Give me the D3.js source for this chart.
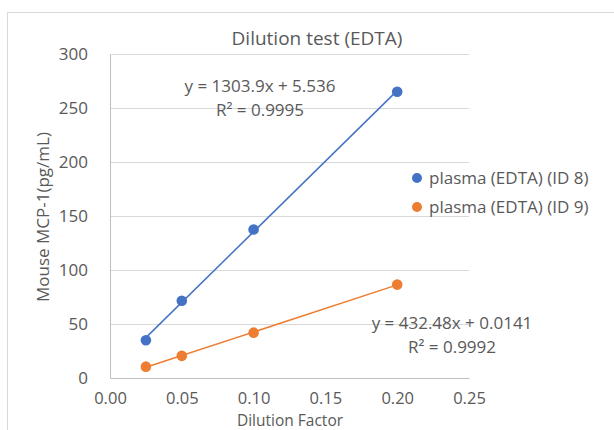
<!DOCTYPE html>
<html><head><meta charset="utf-8">
<script src="https://cdn.jsdelivr.net/npm/d3@7"></script>
<style>body{margin:0;background:#fff;}text{font-family:"Open Sans",sans-serif;fill:#595959;}</style>
</head><body>
<svg id="c" width="614" height="430"></svg>
<script>
const dilution = [0.025, 0.05, 0.1, 0.2];
const id8 = [35, 71.5, 137.5, 265];
const id9 = [10.5, 20.5, 42, 86.5];
const seriesNames = ["plasma (EDTA) (ID 8)", "plasma (EDTA) (ID 9)"];
const colors = ["#4472C4", "#ED7D31"];
const xTicks = [0, 0.05, 0.1, 0.15, 0.2, 0.25];
const yTicks = [0, 50, 100, 150, 200, 250, 300];
const eqLabels = [["y = 1303.9x + 5.536", "R² = 0.9995"], ["y = 432.48x + 0.0141", "R² = 0.9992"]];

const svg = d3.select("#c");
svg.append("rect").attr("x", 7.5).attr("y", 12.5).attr("width", 620).attr("height", 430)
  .attr("fill", "#fff").attr("stroke", "#d9d9d9");

const x = d3.scaleLinear().domain([0, 0.25]).range([110, 469]);
const y = d3.scaleLinear().domain([0, 300]).range([378, 54]);

// gridlines
svg.append("g").selectAll("line").data(yTicks.filter(d => d > 0)).join("line")
  .attr("x1", x(0)).attr("x2", x(0.25)).attr("y1", d => y(d)).attr("y2", d => y(d))
  .attr("stroke", "#d9d9d9").attr("stroke-width", 1).attr("shape-rendering", "crispEdges");

const yAxis = svg.append("g").attr("transform", `translate(${x(0)},0)`)
  .call(d3.axisLeft(y).tickValues(yTicks).tickSize(0).tickPadding(22).tickFormat(d3.format("d")));
yAxis.select(".domain").attr("stroke", "#bfbfbf");
yAxis.selectAll("text").attr("font-size", 17).style("font-family", "Open Sans").attr("fill", "#595959");

const xAxis = svg.append("g").attr("transform", `translate(0,${y(0)})`)
  .call(d3.axisBottom(x).tickValues(xTicks).tickSize(0).tickPadding(14).tickFormat(d3.format(".2f")));
xAxis.select(".domain").attr("stroke", "#bfbfbf");
xAxis.selectAll("text").attr("font-size", 16.5).style("font-family", "Open Sans").attr("fill", "#595959");

// series + trendlines
[id8, id9].forEach((vals, i) => {
  const mx = d3.mean(dilution), my = d3.mean(vals);
  const slope = d3.sum(dilution.map((d, k) => (d - mx) * (vals[k] - my))) / d3.sum(dilution.map(d => (d - mx) ** 2));
  const icpt = my - slope * mx;
  const x0 = d3.min(dilution), x1 = d3.max(dilution);
  svg.append("line").attr("x1", x(x0)).attr("y1", y(slope * x0 + icpt))
    .attr("x2", x(x1)).attr("y2", y(slope * x1 + icpt))
    .attr("stroke", colors[i]).attr("stroke-width", 1.5);
  svg.append("g").selectAll("circle").data(vals).join("circle")
    .attr("cx", (d, k) => x(dilution[k])).attr("cy", d => y(d)).attr("r", 5.3)
    .attr("fill", colors[i]);
});

// equation labels
const eqPos = [[260, 92, 116], [452, 329, 353]];
eqLabels.forEach((lab, i) => {
  svg.append("text").attr("x", eqPos[i][0]).attr("y", eqPos[i][1]).attr("text-anchor", "middle")
    .attr("font-size", 17).text(lab[0]);
  svg.append("text").attr("x", eqPos[i][0]).attr("y", eqPos[i][2]).attr("text-anchor", "middle")
    .attr("font-size", 17).text(lab[1]);
});

// legend
seriesNames.forEach((s, i) => {
  const ly = 178 + i * 29;
  svg.append("circle").attr("cx", 417).attr("cy", ly).attr("r", 5).attr("fill", colors[i]);
  svg.append("text").attr("x", 429).attr("y", ly + 6).attr("font-size", 17).text(s);
});

// title & axis titles
svg.append("text").attr("x", 317).attr("y", 45).attr("text-anchor", "middle").attr("font-size", 19)
  .text("Dilution test (EDTA)");
svg.append("text").attr("transform", "translate(49,217) rotate(-90)").attr("text-anchor", "middle")
  .attr("font-size", 17).text("Mouse MCP-1(pg/mL)");
svg.append("text").attr("x", 290).attr("y", 426).attr("text-anchor", "middle").attr("font-size", 15.5)
  .text("Dilution Factor");
</script>
</body></html>
